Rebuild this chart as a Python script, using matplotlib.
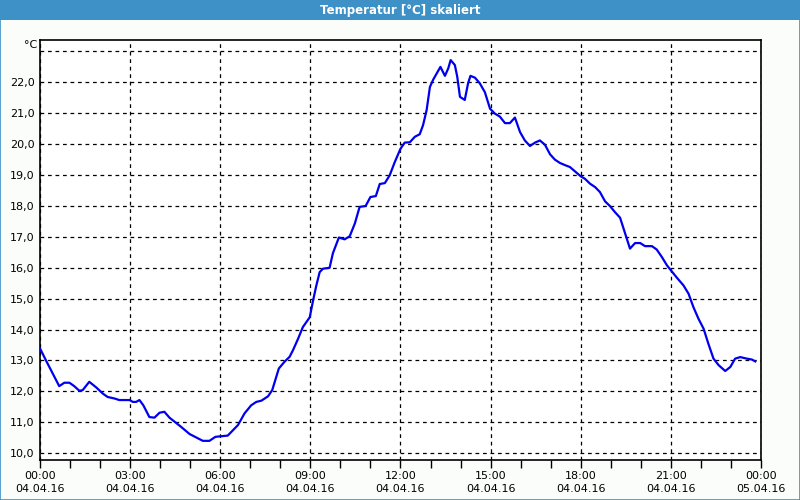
import matplotlib
matplotlib.use("Agg")
import matplotlib.pyplot as plt
import matplotlib.dates as mdates
from matplotlib.patches import Rectangle
from matplotlib.ticker import FuncFormatter
import pandas as pd

# hours after 04.04.16 00:00 and temperature in °C
hours = [0.00, 0.20, 0.48, 0.64, 0.81, 0.98, 1.14, 1.31, 1.42, 1.64, 1.87, 2.09, 2.25, 2.48, 2.64,
         2.98, 3.09, 3.20, 3.31, 3.44, 3.64, 3.81, 3.98, 4.14, 4.31, 4.53, 4.70, 4.98, 5.20, 5.42,
         5.64, 5.84, 6.03, 6.25, 6.42, 6.59, 6.81, 7.03, 7.20, 7.37, 7.59, 7.73, 7.95, 8.14, 8.31,
         8.42, 8.59, 8.75, 8.98, 9.09, 9.20, 9.31, 9.42, 9.64, 9.75, 9.95, 10.14, 10.31, 10.48, 10.64,
         10.84, 11.00, 11.18, 11.31, 11.48, 11.64, 11.81, 12.00, 12.14, 12.31, 12.48, 12.64, 12.75,
         12.87, 12.98, 13.09, 13.20, 13.33, 13.48, 13.59, 13.67, 13.81, 13.89, 13.98, 14.14, 14.25,
         14.33, 14.48, 14.64, 14.81, 14.98, 15.14, 15.31, 15.48, 15.64, 15.81, 15.98, 16.14, 16.31,
         16.48, 16.64, 16.81, 16.98, 17.14, 17.31, 17.48, 17.64, 17.81, 18.00, 18.14, 18.31, 18.48,
         18.64, 18.81, 18.98, 19.14, 19.31, 19.48, 19.64, 19.81, 19.98, 20.14, 20.37, 20.53, 20.70,
         20.87, 21.00, 21.20, 21.42, 21.59, 21.75, 21.92, 22.09, 22.25, 22.42, 22.59, 22.81, 22.98,
         23.14, 23.31, 23.53, 23.70, 23.81]
temps = [13.39, 13.00, 12.47, 12.17, 12.28, 12.28, 12.17, 12.02, 12.04, 12.31, 12.13, 11.93, 11.82, 11.77, 11.72,
         11.72, 11.66, 11.66, 11.72, 11.55, 11.17, 11.15, 11.31, 11.34, 11.15, 10.98, 10.85, 10.62, 10.51, 10.40,
         10.40, 10.53, 10.55, 10.57, 10.74, 10.91, 11.29, 11.55, 11.66, 11.70, 11.84, 12.04, 12.74, 12.96, 13.12,
         13.33, 13.70, 14.08, 14.40, 14.94, 15.43, 15.86, 15.97, 16.00, 16.47, 16.98, 16.92, 17.02, 17.43, 17.97,
         18.00, 18.29, 18.32, 18.71, 18.74, 18.99, 19.42, 19.85, 20.05, 20.06, 20.24, 20.32, 20.61,
         21.10, 21.85, 22.09, 22.28, 22.50, 22.21, 22.45, 22.72, 22.56, 22.18, 21.53, 21.43, 21.97,
         22.21, 22.15, 21.97, 21.68, 21.15, 20.99, 20.89, 20.68, 20.68, 20.86, 20.39, 20.12, 19.94,
         20.05, 20.12, 19.98, 19.67, 19.50, 19.39, 19.32, 19.26, 19.12, 18.96, 18.88, 18.72, 18.61,
         18.45, 18.15, 17.99, 17.80, 17.62, 17.10, 16.62, 16.80, 16.80, 16.70, 16.70, 16.59, 16.35,
         16.08, 15.92, 15.68, 15.43, 15.16, 14.73, 14.35, 14.03, 13.54, 13.06, 12.85, 12.66, 12.79,
         13.06, 13.11, 13.06, 13.03, 12.97]
y_ticks = [10, 11, 12, 13, 14, 15, 16, 17, 18, 19, 20, 21, 22]
title = "Temperatur [°C] skaliert"

start = pd.Timestamp("2016-04-04 00:00")
times = start + pd.to_timedelta(hours, unit="h")

plt.rcParams['font.family'] = ['DejaVu Sans']
fig = plt.figure(figsize=(8, 5), dpi=100, facecolor='#fbfdfb')

# title bar and outer border
fig.patches.append(Rectangle((0, 0.96), 1, 0.04, transform=fig.transFigure,
                             facecolor='#3d91c7', edgecolor='none', zorder=0))
fig.patches.append(Rectangle((0.0006, 0.001), 0.9988, 0.998, transform=fig.transFigure,
                             facecolor='none', edgecolor='#3d91c7', linewidth=1.2, zorder=5))
fig.text(0.5, 0.979, title, color='white', fontsize=8.5, fontweight='bold', ha='center', va='center')

ax = fig.add_axes([0.05, 0.08, 0.9012, 0.84])
ax.set_facecolor('white')
ax.plot(times, temps, color='#0000ee', linewidth=1.6, zorder=3)

ax.set_xlim(start, start + pd.Timedelta(hours=24))
ax.set_ylim(9.78, 23.37)

ax.xaxis.set_major_locator(mdates.HourLocator(byhour=range(0, 24, 3)))
ax.xaxis.set_minor_locator(mdates.HourLocator())
ax.xaxis.set_major_formatter(mdates.DateFormatter("%H:%M\n%d.%m.%y"))
ax.set_yticks(y_ticks + [23])
ax.yaxis.set_major_formatter(FuncFormatter(lambda v, p: "" if v > 22.5 else f"{v:.1f}".replace(".", ",")))

ax.tick_params(axis='x', which='major', direction='out', length=6, width=1, labelsize=8, pad=2)
ax.tick_params(axis='x', which='minor', direction='out', length=6, width=1)
ax.tick_params(axis='y', length=0, labelsize=8, pad=4)
for lbl in ax.get_xticklabels():
    lbl.set_linespacing(1.35)

ax.grid(True, which='major', color='black', linestyle=(0, (3, 3)), linewidth=0.9)
for s in ax.spines.values():
    s.set_linewidth(1.2)

ax.text(-0.004, 23.21, "°C", transform=ax.get_yaxis_transform(), ha='right', va='center', fontsize=8)

fig.savefig("out.png", dpi=100, facecolor=fig.get_facecolor())
